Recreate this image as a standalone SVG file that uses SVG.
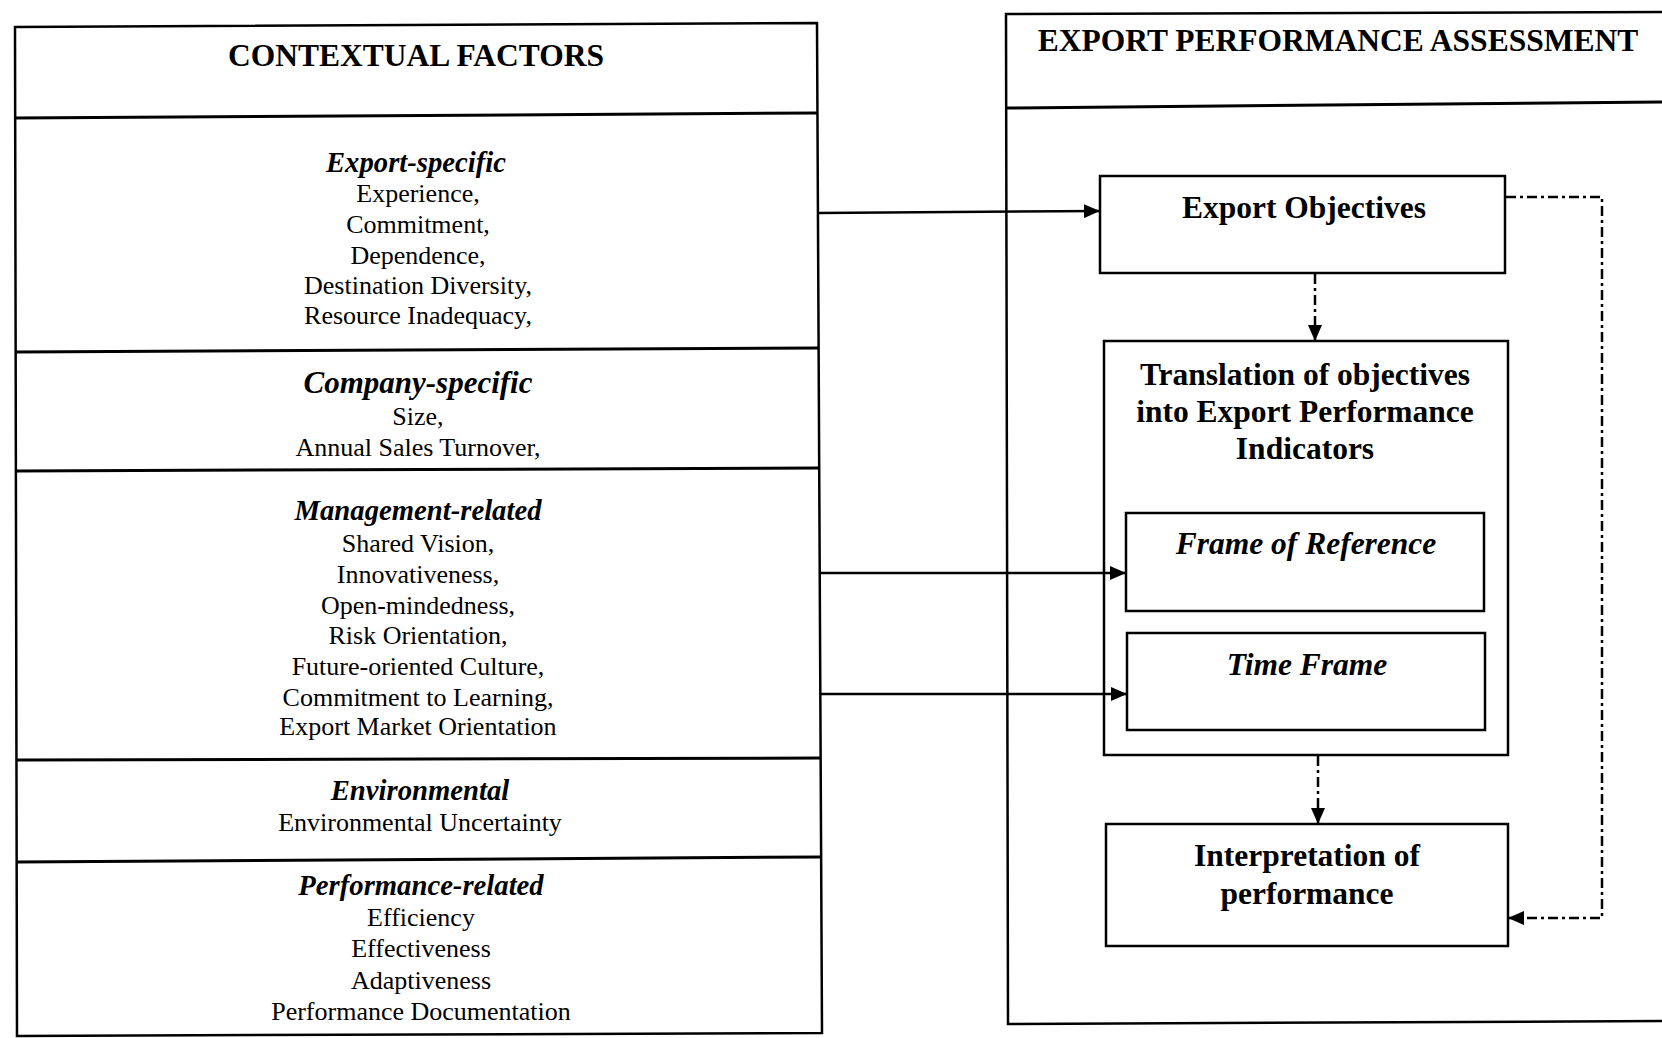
<svg xmlns="http://www.w3.org/2000/svg" width="1662" height="1038" viewBox="0 0 1662 1038">
  <style>
    .frame { fill: none; stroke: #000; stroke-width: 2.5; }
    .rule { fill: none; stroke: #000; stroke-width: 3; }
    .box { fill: #fff; stroke: #000; stroke-width: 2.5; }
    .t { font-family: "Liberation Serif", "Times New Roman", serif; fill: #000; text-anchor: middle; }
    .title { font-size: 31.5px; font-weight: bold; }
    .head { font-size: 28.7px; font-weight: bold; font-style: italic; }
    .item { font-size: 26px; }
    .node { font-size: 31.5px; font-weight: bold; }
    .nodei { font-size: 31.5px; font-weight: bold; font-style: italic; }
    .solid { fill: none; stroke: #000; stroke-width: 2.5; }
    .dash { fill: none; stroke: #000; stroke-width: 2.5; stroke-dasharray: 10 4 3 4; }
  </style>
  <defs>
    <marker id="head" viewBox="0 0 16 14" refX="16" refY="7" markerWidth="16" markerHeight="14" markerUnits="userSpaceOnUse" orient="auto">
      <path d="M0,0 L16,7 L0,14 Z" fill="#000"/>
    </marker>
  </defs>

  <rect width="1662" height="1038" fill="#fff"/>

  <!-- Left panel: contextual factors -->
  <g id="contextual-factors">
    <path class="frame" d="M15,27 L817,23 L822,1033 L17,1036 Z"/>
    <path class="rule" d="M15,118 L818,113"/>
    <path class="rule" d="M16,352 L819,348"/>
    <path class="rule" d="M16,471 L820,468"/>
    <path class="rule" d="M17,760 L821,758"/>
    <path class="rule" d="M17,862 L822,857"/>
    <text class="t title" x="416" y="66">CONTEXTUAL FACTORS</text>
  </g>

  <g id="export-specific">
    <text class="t head" x="416" y="172">Export-specific</text>
    <text class="t item" x="418" y="202">Experience,</text>
    <text class="t item" x="418" y="233">Commitment,</text>
    <text class="t item" x="418" y="264">Dependence,</text>
    <text class="t item" x="418" y="294">Destination Diversity,</text>
    <text class="t item" x="418" y="324">Resource Inadequacy,</text>
  </g>

  <g id="company-specific">
    <text class="t head" x="418" y="393" style="font-size:31px">Company-specific</text>
    <text class="t item" x="418" y="425">Size,</text>
    <text class="t item" x="418" y="456">Annual Sales Turnover,</text>
  </g>

  <g id="management-related">
    <text class="t head" x="418" y="520">Management-related</text>
    <text class="t item" x="418" y="552">Shared Vision,</text>
    <text class="t item" x="418" y="583">Innovativeness,</text>
    <text class="t item" x="418" y="614">Open-mindedness,</text>
    <text class="t item" x="418" y="644">Risk Orientation,</text>
    <text class="t item" x="418" y="675">Future-oriented Culture,</text>
    <text class="t item" x="418" y="706">Commitment to Learning,</text>
    <text class="t item" x="418" y="735">Export Market Orientation</text>
  </g>

  <g id="environmental">
    <text class="t head" x="420" y="800">Environmental</text>
    <text class="t item" x="420" y="831">Environmental Uncertainty</text>
  </g>

  <g id="performance-related">
    <text class="t head" x="421" y="895">Performance-related</text>
    <text class="t item" x="421" y="926">Efficiency</text>
    <text class="t item" x="421" y="957">Effectiveness</text>
    <text class="t item" x="421" y="989">Adaptiveness</text>
    <text class="t item" x="421" y="1020">Performance Documentation</text>
  </g>

  <!-- Right panel: export performance assessment -->
  <g id="export-performance-assessment">
    <path class="frame" d="M1670,12 L1006,14 L1008,1024 L1670,1021"/>
    <path class="rule" d="M1007,108 L1670,102"/>
    <text class="t title" x="1338" y="51">EXPORT PERFORMANCE ASSESSMENT</text>
  </g>

  <g id="export-objectives">
    <rect class="box" x="1100" y="176" width="405" height="97"/>
    <text class="t node" x="1304" y="218">Export Objectives</text>
  </g>

  <g id="translation">
    <rect class="box" x="1104" y="341" width="404" height="414"/>
    <text class="t node" x="1305" y="385">Translation of objectives</text>
    <text class="t node" x="1305" y="422">into Export Performance</text>
    <text class="t node" x="1305" y="459">Indicators</text>
  </g>

  <g id="frame-of-reference">
    <rect class="box" x="1126" y="513" width="358" height="98"/>
    <text class="t nodei" x="1306" y="554">Frame of Reference</text>
  </g>

  <g id="time-frame">
    <rect class="box" x="1127" y="633" width="358" height="97"/>
    <text class="t nodei" x="1307" y="675">Time Frame</text>
  </g>

  <g id="interpretation">
    <rect class="box" x="1106" y="824" width="402" height="122"/>
    <text class="t node" x="1307" y="866">Interpretation of</text>
    <text class="t node" x="1307" y="904">performance</text>
  </g>

  <!-- Connectors -->
  <g id="connectors">
    <path class="solid" d="M818,213 L1100,211" marker-end="url(#head)"/>
    <path class="solid" d="M820,573 L1126,573" marker-end="url(#head)"/>
    <path class="solid" d="M821,694 L1127,694" marker-end="url(#head)"/>
    <path class="dash" d="M1315,274 L1315,341" marker-end="url(#head)"/>
    <path class="dash" d="M1318,756 L1318,824" marker-end="url(#head)"/>
    <path class="dash" d="M1506,197 L1602,197 L1602,918 L1508,918" marker-end="url(#head)"/>
  </g>
</svg>
